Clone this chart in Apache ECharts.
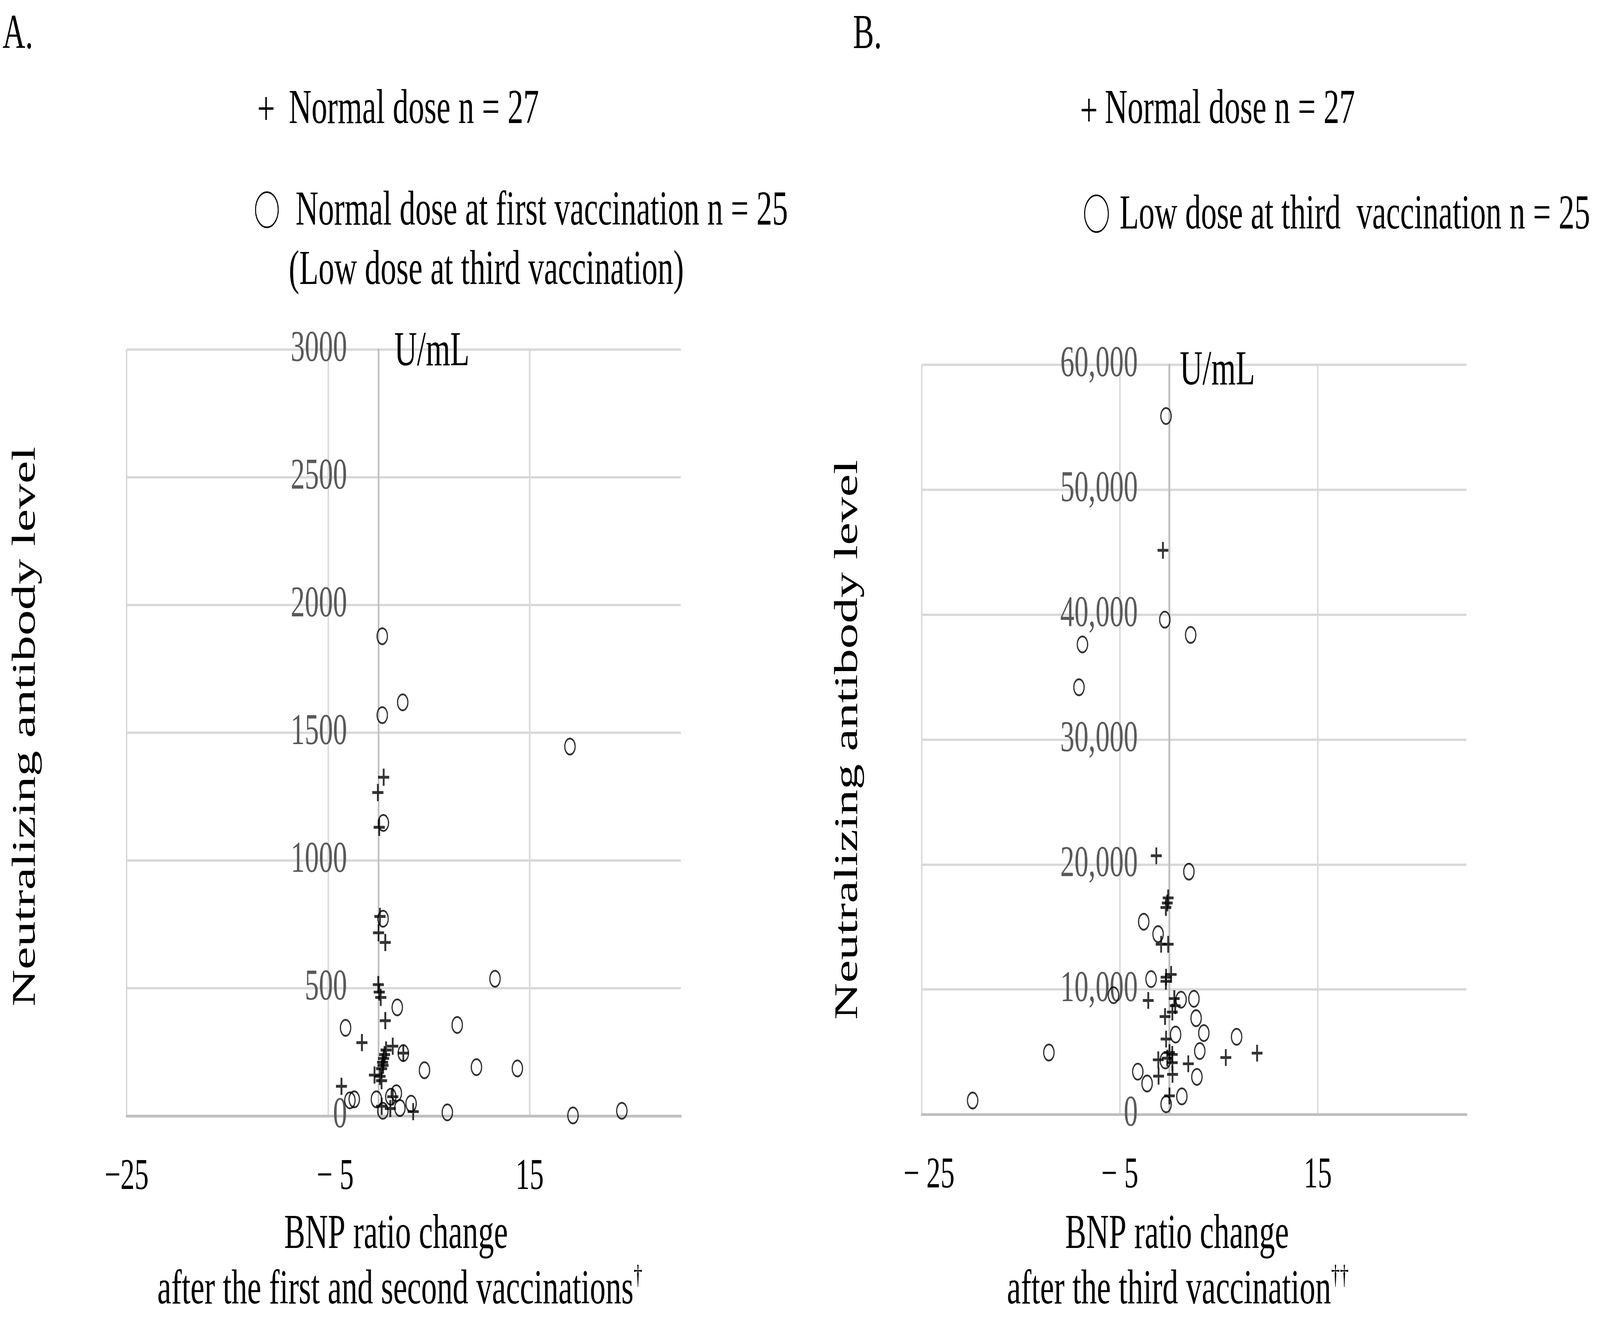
<!DOCTYPE html>
<html>
<head>
<meta charset="utf-8">
<script src="https://cdn.jsdelivr.net/npm/echarts@6/dist/echarts.min.js"></script>
<style>
html,body{margin:0;padding:0;background:#fff;width:100%;height:100%;overflow:hidden;}
#wrap{position:fixed;left:0;top:0;width:100vw;height:100vh;overflow:hidden;background:#fff;}
#c{position:absolute;left:0;top:0;width:6355px;height:3382px;transform-origin:0 0;}
</style>
</head>
<body>
<div id="wrap"><div id="c"></div></div>
<script>
// ---------- Data ----------
// Panel A: BNP ratio change after 1st/2nd vaccination vs neutralizing antibody (U/mL)
const A_normal_x = [0.51,-0.07,0.07,0.14,0.0,0.67,-0.02,0.07,0.22,0.67,-1.65,1.41,2.46,0.75,0.6,0.5,0.4,0.45,0.3,-0.4,0.14,0.3,-3.68,1.41,0.31,1.17,3.44];
const A_normal_y = [1326,1266,1130,781,717,679,514,485,464,373,287,273,246,258,240,225,210,198,185,160,155,138,116,75,38,29,17];
const A_low_x = [0.37,2.4,0.37,19.0,0.48,0.45,11.56,1.86,-3.27,7.81,2.46,4.56,9.72,13.78,-2.84,-2.41,-0.21,1.77,1.22,0.43,2.12,3.23,6.83,19.3,24.15];
const A_low_y = [1878,1619,1569,1446,1147,772,537,425,345,356,246,179,191,186,61,65,65,89,75,20,31,48,14,2,20];

// Panel B: BNP ratio change after 3rd vaccination vs neutralizing antibody (U/mL)
const B_normal_x = [-0.64,-1.31,-0.11,-0.2,-0.34,-0.82,-0.11,0.19,-0.32,-0.34,-2.12,0.51,0.6,0.31,-0.43,-0.32,0.02,0.3,-1.11,-0.2,0.31,1.92,5.71,8.87,-1.08,0.33,0.02];
const B_normal_y = [45150,20700,17330,16920,16560,13620,13620,11200,10980,10650,9120,9270,8700,8190,7830,6030,4950,4800,4370,4500,4140,4050,4550,4900,3060,3200,1480];
const B_low_x = [-0.33,-0.45,2.16,-8.77,-9.12,1.98,-2.58,-1.13,-1.84,-5.63,1.19,2.49,2.71,3.49,0.64,6.8,3.08,-12.16,-0.4,-3.18,2.79,-2.24,1.27,-0.32,-19.86];
const B_low_y = [55900,39600,38380,37620,34190,19430,15420,14430,10830,9540,9180,9250,7700,6510,6390,6210,5070,4950,4320,3420,3000,2470,1440,810,1110];

// Axis ticks / labels
const xMin = -25, xMax = 30;
const xTicks = [-25, -5, 15];
const A_xTickLabels = ['\u221225', '\u2212 5', '15'];
const B_xTickLabels = ['\u2212 25', '\u2212 5', '15'];
const A_yMax = 3000, A_yInterval = 500;
const B_yMax = 60000, B_yInterval = 10000;

// Texts
const A_title = 'A.', B_title = 'B.';
const seriesNormal = 'Normal dose n = 27';
const A_lowName = 'Normal dose at first vaccination n = 25';
const A_lowName2 = '(Low dose at third vaccination)';
const B_lowName = 'Low dose at third  vaccination n = 25';
const unitText = 'U/mL';
const yName = 'Neutralizing antibody level';
const xName1 = 'BNP ratio change';
const A_xName2 = 'after the first and second vaccinations';
const B_xName2 = 'after the third vaccination';
const A_dagger = '\u2020', B_dagger = '\u2020\u2020';

// ---------- Fit the 6355x3382 design to the actual window ----------
const W = 6355, H = 3382;
const dom = document.getElementById('c');
const sx = window.innerWidth / W, sy = window.innerHeight / H;
dom.style.transform = 'scale(' + sx + ',' + sy + ')';
const dpr = (window.devicePixelRatio || 1) * Math.max(sx, sy);

// ---------- Chart ----------
const FONT = '"Liberation Serif", "Times New Roman", serif';
const zip = (xs, ys) => xs.map((x, i) => [x, ys[i]]);
const PLUS = 'path://M-1,-6H1V-1H6V1H1V6H-1V1H-6V-1H-1Z';
const grids = [
  { left: 503, top: 895, width: 2201, height: 1962 },
  { left: 3661, top: 934, width: 2163, height: 1919 }
];
// horizontal label nudges (padding) per tick, matching the reference placement
const labelPad = [[0, 56, 0], [58, 0, 0]];

function xAxisFor(gridIndex, labels) {
  const pads = labelPad[gridIndex];
  const rich = {};
  pads.forEach((p, i) => { rich['p' + i] = { padding: [0, 0, 0, p], fontSize: 112, fontFamily: FONT, color: '#000' }; });
  return {
    type: 'value', gridIndex, min: xMin, max: xMax, position: 'bottom',
    axisLine: { show: true, onZero: false, lineStyle: { color: '#bfbfbf', width: 7 } },
    axisTick: { show: false, customValues: xTicks },
    axisLabel: {
      customValues: xTicks, margin: 102, fontSize: 112, fontFamily: FONT, color: '#000', rich,
      formatter: v => { const i = xTicks.indexOf(v); return i >= 0 ? '{p' + i + '|' + labels[i] + '}' : ''; }
    },
    splitLine: { show: true, lineStyle: { color: '#d9d9d9', width: 6 } }
  };
}
function yAxisFor(gridIndex, max, interval, fmt) {
  // vertical axis crosses the horizontal value axis at x = 0
  const g = grids[gridIndex];
  const off = -g.width * (0 - xMin) / (xMax - xMin);
  return {
    type: 'value', gridIndex, min: 0, max, interval, position: 'left', offset: off,
    axisLine: { show: true, onZero: false, lineStyle: { color: '#bfbfbf', width: 7 } },
    axisTick: { show: false },
    axisLabel: { margin: 125, fontSize: 112, fontFamily: FONT, color: '#595959', formatter: fmt },
    splitLine: { show: true, lineStyle: { color: '#d9d9d9', width: 6 } }
  };
}
function plusSeries(name, xi, data, size) {
  return { type: 'scatter', name, xAxisIndex: xi, yAxisIndex: xi, data, symbol: PLUS, symbolSize: size,
    itemStyle: { color: '#000' }, z: 3, emphasis: { disabled: true } };
}
function circleSeries(name, xi, data, size) {
  return { type: 'scatter', name, xAxisIndex: xi, yAxisIndex: xi, data, symbol: 'circle', symbolSize: size,
    itemStyle: { color: 'rgba(0,0,0,0)', borderColor: '#000', borderWidth: 4.8 }, z: 2, emphasis: { disabled: true } };
}
function txt(text, x, y, opt) {
  opt = opt || {};
  return {
    type: 'text', x, y, rotation: opt.rotation || 0, z: 10, silent: true,
    style: {
      text, fontSize: opt.fontSize || 125, fontFamily: FONT, fill: opt.fill || '#000',
      align: opt.align || 'left', verticalAlign: 'middle',
      textAlign: opt.align || 'left', textVerticalAlign: 'middle'
    }
  };
}
function richLine(main, sup, cx, cy) {
  return {
    type: 'text', x: cx, y: cy, z: 10, silent: true,
    style: {
      text: '{a|' + main + '}{s|' + sup + '}', align: 'center', verticalAlign: 'middle',
      textAlign: 'center', textVerticalAlign: 'middle', fontFamily: FONT, fontSize: 125, fill: '#000',
      rich: {
        a: { fontSize: 125, fontFamily: FONT, fill: '#000', lineHeight: 140, verticalAlign: 'middle' },
        s: { fontSize: 70, fontFamily: FONT, fill: '#000', lineHeight: 140, verticalAlign: 'top' }
      }
    }
  };
}

const chart = echarts.init(dom, null, { renderer: 'canvas', devicePixelRatio: dpr, width: W, height: H });
chart.setOption({
  backgroundColor: '#fff',
  animation: false,
  grid: grids,
  xAxis: [xAxisFor(0, A_xTickLabels), xAxisFor(1, B_xTickLabels)],
  yAxis: [
    yAxisFor(0, A_yMax, A_yInterval, v => String(v)),
    yAxisFor(1, B_yMax, B_yInterval, v => v.toLocaleString('en-US'))
  ],
  series: [
    circleSeries(A_lowName, 0, zip(A_low_x, A_low_y), 41),
    plusSeries(seriesNormal, 0, zip(A_normal_x, A_normal_y), 44),
    circleSeries(B_lowName, 1, zip(B_low_x, B_low_y), 41),
    plusSeries(seriesNormal, 1, zip(B_normal_x, B_normal_y), 43)
  ],
  graphic: [
    txt(A_title, 10, 90),
    txt(B_title, 3388, 90),
    // Legend A
    txt('+', 1057, 286, { align: 'center' }),
    txt(seriesNormal, 1147, 282),
    { type: 'circle', shape: { cx: 1060, cy: 537, r: 45 }, style: { fill: 'none', stroke: '#000', lineWidth: 4 }, z: 10, silent: true },
    txt(A_lowName, 1174, 542),
    txt(A_lowName2, 1147, 694),
    // Legend B
    txt('+', 4325, 290, { align: 'center' }),
    txt(seriesNormal, 4388, 282),
    { type: 'circle', shape: { cx: 4355, cy: 547, r: 47 }, style: { fill: 'none', stroke: '#000', lineWidth: 4 }, z: 10, silent: true },
    txt(B_lowName, 4447, 552),
    // Units
    txt(unitText, 1566, 902),
    txt(unitText, 4686, 951),
    // Y names
    txt(yName, 104, 1860, { align: 'center', rotation: Math.PI / 2, fontSize: 131 }),
    txt(yName, 3370, 1894, { align: 'center', rotation: Math.PI / 2, fontSize: 131 }),
    // X names
    txt(xName1, 1573, 3162, { align: 'center' }),
    richLine(A_xName2, A_dagger, 1588, 3304),
    txt(xName1, 4675, 3162, { align: 'center' }),
    richLine(B_xName2, B_dagger, 4678, 3304)
  ]
});
</script>
</body>
</html>
